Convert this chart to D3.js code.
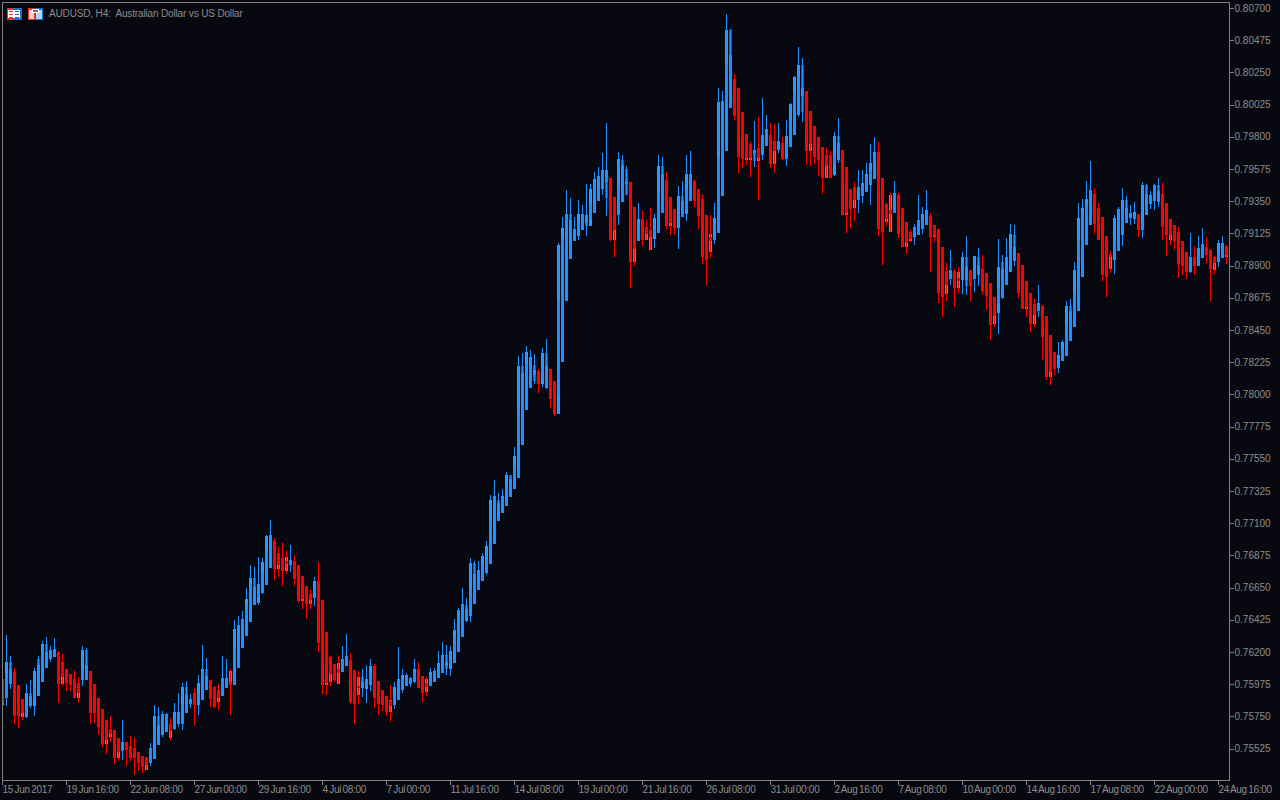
<!DOCTYPE html>
<html><head><meta charset="utf-8">
<script src="https://cdnjs.cloudflare.com/ajax/libs/d3/7.8.5/d3.min.js"></script>
<style>html,body{margin:0;padding:0;background:#080910;overflow:hidden}svg{display:block}text{font-family:"Liberation Sans",Arial,sans-serif;font-size:10px;fill:#8c8c8c}.tl{letter-spacing:-0.3px;word-spacing:-1px}.ttl{white-space:pre;letter-spacing:-0.15px}</style>
</head><body><svg id="c" width="1280" height="800"></svg>
<script>
// Prices in hundred-thousandths (1 = 0.00001)
const opens=[76010,75885,75983,76059,75969,75871,75752,75829,75864,75899,75996,76094,76157,76171,76199,76129,76080,76045,76010,75983,76010,76010,76066,75976,75878,75801,75724,75661,75654,75598,75514,75570,75542,75528,75500,75472,75465,75430,75458,75556,75626,75647,75696,75668,75703,75703,75780,75843,75913,75836,75871,75941,76003,75955,75934,75899,75955,
75990,75976,76094,76234,76318,76416,76535,76591,76619,76674,76793,76905,76891,76856,76835,76814,76835,76807,76730,76660,76605,76584,76619,76563,76339,76164,76115,76080,76066,76108,76143,76073,75962,75955,75969,75976,76017,75996,75934,75892,75857,75836,75871,75941,75969,75983,75996,76031,76031,75983,75969,75996,76024,76059,76108,76122,76129,
76206,76311,76423,76458,76542,76639,76702,76758,76821,76961,77122,77178,77227,77289,77345,77422,77653,77897,78051,78142,78163,78121,78051,78177,78093,78009,78233,78659,78953,79079,79114,79156,79204,79225,79274,79358,79442,79491,79512,79379,79260,79351,79477,79484,79309,79079,79176,79169,79149,79121,79135,79274,79407,79379,79295,79246,79246,79295,79358,79449,79435,79365,79253,79100,79086,
79135,79393,79708,80008,80204,80141,79973,79819,79750,79694,79722,79680,79743,79812,79771,79715,79757,79652,79736,79819,79959,80092,80120,79980,79875,79799,79729,79673,79673,79610,79645,79708,79589,79435,79449,79365,79393,79421,79470,79512,79596,79512,79330,79288,79274,79344,79302,79204,79135,79107,79121,79163,79190,79246,79183,79156,79030,78862,78813,78862,78813,78806,78806,78869,78813,78841,78876,78848,78778,78680,78638,78680,78771,
78862,78939,78988,78904,78792,78708,78631,78589,78617,78547,78415,78296,78191,78240,78275,78380,78478,78589,78827,79051,79190,79400,79302,79239,79107,78981,78946,79009,79121,79204,79239,79232,79260,79156,79260,79337,79358,79351,79400,79337,79225,79183,79135,79072,78995,78862,78960,78904,78960,79030,79009,78960,78932,78960,79037];
const closes=[75850,76052,76080,75899,75759,75780,75822,75892,75941,76108,76192,76199,76213,76220,76052,76031,75990,75976,75934,75920,76087,76108,75878,75780,75717,75633,75591,75633,75542,75507,75570,75521,75507,75465,75430,75402,75416,75528,75661,75689,75766,75766,75654,75738,75780,75829,75899,75871,75836,75906,76066,76031,75878,75822,75885,76017,76017,
75976,76227,76388,76430,76521,76653,76653,76674,76744,76912,77017,76863,76814,76807,76821,76842,76772,76653,76577,76542,76570,76646,76493,76101,75990,76052,76045,76059,76150,76171,75996,75843,75955,75990,76010,76045,75976,75864,75836,75808,75829,75906,76010,76010,76038,76017,76059,76024,75920,75962,76038,76066,76108,76164,76129,76150,76297,
76493,76535,76500,76639,76744,76772,76807,76842,77115,77289,77241,77289,77359,77408,77499,77897,78149,78212,78247,78170,78079,78191,78198,78002,77939,78659,79093,79260,79218,79156,79211,79260,79253,79323,79456,79526,79568,79568,79232,79156,79456,79603,79491,79121,79023,79183,79156,79128,79107,79156,79421,79540,79344,79204,79197,79260,79351,79428,79540,79414,79288,79128,78946,79079,79190,
79652,80050,80316,80372,80078,79799,79666,79659,79659,79708,79659,79812,79854,79722,79708,79771,79701,79750,79910,80106,80225,80141,79840,79757,79722,79645,79568,79603,79603,79673,79757,79463,79274,79302,79365,79449,79477,79519,79561,79673,79428,79142,79232,79267,79407,79253,79093,79065,79093,79169,79218,79225,79288,79121,79114,78904,78687,78771,78869,78792,78799,78883,78890,78764,78876,78904,78813,78694,78582,78554,78750,78876,78960,
79023,79030,78820,78673,78617,78547,78561,78638,78471,78275,78163,78184,78247,78310,78492,78582,78708,79079,79267,79337,79428,79288,79176,78967,78827,78967,79086,79295,79288,79302,79267,79246,79183,79218,79400,79393,79463,79421,79274,79121,79121,79079,79002,78904,78862,78960,78904,79023,79051,78981,78883,78925,78995,79058,78981];
const highs=[76010,76318,76171,76087,75969,75871,75976,76003,76087,76171,76276,76304,76241,76297,76206,76185,76080,76045,76066,76024,76241,76227,76066,75976,75878,75801,75724,75752,75654,75598,75724,75570,75612,75598,75500,75472,75465,75563,75829,75815,75787,75773,75738,75843,75913,75983,75996,75906,75941,76038,76248,76157,76003,75962,75976,76171,76150,
76080,76423,76451,76486,76646,76807,76793,76863,76856,77017,77122,76998,76934,76962,76906,76948,76878,76807,76730,76660,76632,76723,76828,76563,76339,76171,76115,76171,76241,76325,76192,76073,76066,76080,76108,76150,76115,75996,75934,75892,75969,75990,76234,76080,76052,76024,76150,76129,76031,76024,76087,76087,76206,76269,76248,76241,76430,
76507,76646,76577,76856,76835,76835,76891,76975,77296,77401,77310,77338,77457,77436,77632,78268,78289,78338,78310,78282,78177,78324,78387,78177,78093,79058,79239,79428,79372,79239,79358,79323,79470,79470,79554,79589,79687,79896,79512,79379,79694,79673,79596,79484,79309,79337,79281,79218,79302,79260,79673,79659,79554,79379,79295,79456,79491,79673,79701,79505,79435,79400,79253,79253,79337,
80141,80120,80658,80553,80239,80141,79973,79819,79764,79910,79938,80071,79952,79896,79889,79896,79799,79917,80036,80225,80428,80351,80120,79980,79875,79799,79729,79722,79701,79833,79931,79708,79589,79435,79484,79568,79568,79617,79750,79799,79764,79512,79337,79407,79491,79407,79302,79204,79149,79190,79393,79309,79428,79267,79183,79156,79030,78918,79009,78876,78890,78995,79107,78869,78967,79023,78974,78848,78778,78680,79086,78974,79093,
79190,79183,78988,78904,78792,78708,78666,78764,78624,78547,78415,78296,78366,78380,78652,78666,78925,79337,79365,79491,79631,79442,79337,79239,79107,79002,79253,79309,79442,79386,79323,79344,79260,79484,79470,79421,79470,79512,79477,79337,79225,79183,79169,79072,78995,79128,79037,79107,79163,79100,79016,78967,79079,79107,79044];
const lows=[75836,75829,75948,75703,75675,75731,75745,75815,75759,75899,75996,76094,76136,76171,75850,75969,75934,75934,75885,75850,75969,76010,75703,75710,75626,75542,75493,75577,75423,75444,75451,75409,75444,75346,75374,75360,75381,75409,75458,75556,75612,75647,75591,75661,75682,75661,75780,75815,75696,75766,75871,75941,75822,75815,75801,75899,75955,
75766,75976,76094,76234,76318,76416,76535,76535,76612,76674,76793,76709,76730,76667,76751,76765,76667,76556,76507,76437,76507,76528,76206,75913,75906,75969,75996,75983,76066,76108,75843,75703,75843,75892,75850,75934,75815,75766,75794,75759,75717,75808,75871,75920,75969,75962,75990,75955,75857,75899,75969,75996,76024,76059,76045,76038,76129,
76206,76311,76416,76416,76542,76639,76702,76744,76821,76961,77122,77178,77227,77289,77345,77422,77653,77897,78051,78079,78016,78058,78044,77911,77856,77870,78233,78659,78953,79079,79086,79156,79114,79183,79274,79358,79400,79253,79079,78967,79190,79351,79400,78750,78904,79079,79044,79086,79016,79030,79135,79274,79156,79121,79121,79023,79246,79218,79358,79316,79163,78918,78771,78960,79058,
79135,79393,79708,80008,79924,79554,79589,79610,79526,79596,79365,79645,79743,79589,79554,79694,79645,79603,79736,79819,79945,79910,79610,79603,79617,79531,79407,79519,79519,79531,79624,79260,79135,79169,79218,79274,79344,79421,79330,79512,79114,78911,79183,79142,79274,79100,79037,78988,79072,79051,79121,79128,79190,78862,79072,78645,78547,78659,78771,78617,78715,78708,78701,78659,78722,78764,78708,78596,78387,78478,78429,78673,78771,
78862,78904,78680,78603,78547,78443,78478,78547,78247,78107,78072,78142,78156,78240,78275,78380,78478,78589,78827,79051,79190,79128,79086,78799,78687,78855,78848,79009,79044,79204,79190,79197,79107,79100,79260,79302,79295,79316,79086,78974,79051,79016,78820,78841,78813,78855,78841,78904,78960,78925,78659,78848,78897,78960,78918];
// Grey overlay ranges and the bars that carry them (tone 1 = light, 2 = dark)
const shadeBars=[0,1,2,3,5,6,7,8,9,10,11,14,15,18,19,20,21,22,24,25,26,27,28,29,32,36,38,39,41,42,43,45,46,49,50,51,54,57,58,60,61,62,63,64,65,66,68,69,70,71,73,74,75,77,78,79,80,81,82,83,84,87,89,90,91,92,93,94,96,97,98,100,103,104,106,107,109,110,111,112,113,114,116,117,118,120,121,122,124,126,127,128,129,130,131,132,133,135,136,137,138,139,140,142,144,146,147,148,150,151,152,153,154,155,156,157,158,159,160,161,162,163,164,165,166,167,168,169,170,171,172,173,174,175,177,178,179,180,181,182,183,184,185,186,187,188,189,192,193,195,196,197,198,199,200,201,202,203,205,206,207,208,209,210,211,213,216,217,218,219,221,222,224,225,226,227,230,232,233,234,236,238,239,240,241,243,244,245,247,248,249,250,252,253,254,255,256,257,258,260,261,262,264,265,266,267,268,269,270,271,273,274,275,277,278,279,280,281,283,284,285,286,289,290,292,294,298,299,303,304,305,306];
const shadeHigh=[76010,76129,76129,76059,75871,75913,75913,76066,76150,76255,76255,76199,76129,76010,75983,76213,76213,76066,75878,75801,75724,75661,75654,75598,75542,75465,75752,75752,75766,75696,75780,75955,75955,75983,76080,76080,75934,76066,76360,76430,76570,76716,76716,76674,76828,77010,76975,76891,76856,76863,76835,76807,76730,76605,76695,76695,76563,76339,76164,76115,76122,76143,76024,76024,76010,76101,76101,75996,75892,75864,75955,76038,76080,76080,76010,76059,76122,76178,76178,76206,76353,76493,76528,76821,76821,76870,76941,77261,77261,77436,77436,77569,78198,78198,78296,78261,78205,78289,78289,78177,78093,79044,79163,79260,79260,79253,79435,79505,79568,79568,79512,79379,79645,79638,79575,79484,79309,79225,79225,79169,79149,79232,79596,79596,79498,79379,79295,79386,79386,79540,79540,79491,79435,79365,79121,79232,80043,80050,80546,80546,80204,80141,79973,79819,79750,79708,79722,79812,79771,79757,79805,80029,80218,80302,80302,80120,79980,79875,79729,79673,79673,79805,79805,79708,79589,79449,79540,79617,79694,79694,79330,79393,79393,79302,79204,79135,79260,79246,79183,79156,78862,78862,78855,78960,78960,78967,78960,78876,78778,78680,78890,78925,79121,79114,78988,78904,78792,78708,78631,78617,78547,78415,78275,78366,78617,78617,78869,79232,79302,79365,79400,79302,79239,78981,79232,79295,79358,79358,79274,79260,79463,79463,79463,79400,79225,79135,78960,79023,78960,79058,79058,79037];
const shadeLow=[75836,75885,75983,75759,75752,75752,75829,75829,75899,75996,76094,75983,75983,75885,75885,76010,76010,75780,75682,75563,75563,75612,75465,75465,75465,75381,75458,75556,75710,75605,75668,75703,75780,75836,75871,75941,75857,75976,75976,76388,76318,76416,76535,76549,76619,76674,76786,76786,76772,76772,76716,76563,76563,76542,76584,76269,75976,75976,75996,76010,75983,75857,75906,75955,75948,75976,75885,75843,75787,75787,75836,75941,75996,75955,75927,75969,76024,76059,76087,76087,76129,76423,76423,76458,76542,76702,76758,76821,77122,77227,77289,77345,77422,77653,77897,78051,78100,78079,78051,77974,77870,77870,78233,79218,79114,79183,79183,79274,79526,79379,79086,79086,79260,79351,79400,78932,78932,79079,79086,79086,79016,79093,79135,79274,79183,79183,79169,79169,79246,79267,79491,79358,79253,78967,79002,79086,79135,79966,79708,80008,79952,79666,79652,79645,79645,79638,79638,79617,79617,79652,79652,79736,79819,79959,79980,79708,79708,79666,79519,79519,79519,79540,79645,79260,79260,79309,79421,79470,79512,79163,79211,79142,79128,79037,79037,79079,79163,79107,79107,78715,78708,78750,78750,78806,78764,78813,78841,78729,78492,78499,78575,78680,78862,78939,78715,78603,78603,78499,78499,78408,78128,78128,78191,78240,78275,78380,78478,78589,78827,79051,79197,79086,78841,78883,78946,79218,79121,79302,79232,79156,79156,79400,79351,79176,79086,78918,78904,78960,78876,78932,79009,78967];
const shadeTone=[1,1,2,2,1,1,2,1,2,1,2,2,1,2,1,1,2,2,2,2,1,1,2,1,2,1,1,2,2,1,1,1,2,1,1,2,1,1,1,2,1,1,2,1,1,1,2,1,2,1,2,2,1,1,1,2,2,1,1,2,1,2,1,2,1,1,2,2,2,1,1,1,1,2,1,1,1,1,2,1,1,2,2,1,2,1,1,1,2,1,2,1,1,2,1,1,2,1,2,2,2,1,1,2,1,2,1,1,2,2,2,1,1,2,2,2,1,1,2,1,1,1,1,2,2,1,2,1,2,1,2,2,2,2,1,1,1,2,1,2,2,2,2,1,1,2,1,2,1,2,1,1,1,1,2,2,1,2,2,1,2,1,2,2,1,1,1,1,1,2,1,1,2,2,1,1,1,2,1,2,1,2,1,1,2,1,2,2,2,1,1,2,1,2,2,2,1,2,1,2,2,1,1,1,1,2,1,1,1,1,2,2,2,1,1,2,1,2,1,2,1,2,2,2,1,2,2,1,1,1,2,1];
const yTicks=[0.807,0.80475,0.8025,0.80025,0.798,0.79575,0.7935,0.79125,0.789,0.78675,0.7845,0.78225,0.78,0.77775,0.7755,0.77325,0.771,0.76875,0.7665,0.76425,0.762,0.75975,0.7575,0.75525];
const timeBars=[0,16,32,48,64,80,96,112,128,144,160,176,192,208,224,240,256,272,288,304];
const timeLabels=["15 Jun 2017","19 Jun 16:00","22 Jun 08:00","27 Jun 00:00","29 Jun 16:00","4 Jul 08:00","7 Jul 00:00","11 Jul 16:00","14 Jul 08:00","19 Jul 00:00","21 Jul 16:00","26 Jul 08:00","31 Jul 00:00","2 Aug 16:00","7 Aug 08:00","10 Aug 00:00","14 Aug 16:00","17 Aug 08:00","22 Aug 00:00","24 Aug 16:00"];
const titleText="AUDUSD, H4:  Australian Dollar vs US Dollar";

const UP="#1e90ff",DOWN="#ff0000",FRAME="#808080";
const svg=d3.select("#c");
const x=d3.scaleLinear().domain([0,306]).range([2,1226]);
const y=d3.scaleLinear().domain([0.75525,0.807]).range([748.5,8]);
const py=p=>Math.round(y(p/1e5));
const bars=d3.range(opens.length);
const plot=svg.append("g").attr("shape-rendering","crispEdges");

plot.append("g").selectAll("rect").data(shadeBars).join("rect")
 .attr("x",(d)=>x(d)-1).attr("width",3)
 .attr("y",(d,i)=>py(shadeHigh[i])).attr("height",(d,i)=>py(shadeLow[i])-py(shadeHigh[i])+1)
 .attr("fill",(d,i)=>shadeTone[i]===1?"#858a90":"#4f4f52");
plot.append("g").selectAll("rect").data(bars).join("rect")
 .attr("x",d=>x(d)).attr("width",1)
 .attr("y",d=>py(highs[d])).attr("height",d=>py(lows[d])-py(highs[d])+1)
 .attr("fill",d=>closes[d]>=opens[d]?UP:DOWN);
plot.append("g").selectAll("rect").data(bars).join("rect")
 .attr("x",d=>x(d)-1).attr("width",3)
 .attr("y",d=>py(Math.max(opens[d],closes[d])))
 .attr("height",d=>py(Math.min(opens[d],closes[d]))-py(Math.max(opens[d],closes[d]))+1)
 .attr("fill",d=>closes[d]>=opens[d]?UP:DOWN);

// mask bars to the frame
svg.append("rect").attr("x",0).attr("y",0).attr("width",2).attr("height",800).attr("fill","#080910");
svg.append("rect").attr("x",2.5).attr("y",2.5).attr("width",1227).attr("height",778).attr("fill","none").attr("stroke",FRAME).attr("shape-rendering","crispEdges");

const ya=d3.axisRight(y).tickValues(yTicks).tickFormat(d3.format(".5f")).tickSize(4).tickPadding(1);
const yg=svg.append("g").attr("transform","translate(1229.5,0)").call(ya);
yg.select(".domain").remove();
yg.selectAll("line").attr("stroke",FRAME).attr("shape-rendering","crispEdges");
yg.selectAll("text").attr("font-size",null).attr("font-family",null);

const xa=d3.axisBottom(x).tickValues(timeBars).tickFormat((d,i)=>timeLabels[i]).tickSize(4).tickPadding(1);
const xg=svg.append("g").attr("transform","translate(0,780.5)").call(xa);
xg.select(".domain").remove();
xg.selectAll("line").attr("stroke",FRAME).attr("shape-rendering","crispEdges");
xg.selectAll("text").attr("class","tl").attr("text-anchor","start").attr("font-size",null).attr("font-family",null).attr("dx",0);

svg.append("text").attr("class","ttl").attr("x",49).attr("y",17).text(titleText);

// title icons
const ic=svg.append("g").attr("shape-rendering","crispEdges");
const box=(a,b,w,h,f)=>ic.append("rect").attr("x",a).attr("y",b).attr("width",w).attr("height",h).attr("fill",f);
box(7,8,7,12,"#e63232");box(14,8,8,12,"#1e6ec8");box(8,10,12,8,"#ffffff");
[11,14,17].forEach(r=>{box(9,r,4,1,"#e63232");box(15,r,4,1,"#1e6ec8");});
box(28,8,7,12,"#e63232");box(35,8,8,12,"#1e6ec8");box(29,10,5,9,"#ffd0c8");box(36,10,6,9,"#a8d8ff");box(32,9,7,4,"#ffffff");box(33,10,5,2,"#707070");
</script></body></html>
